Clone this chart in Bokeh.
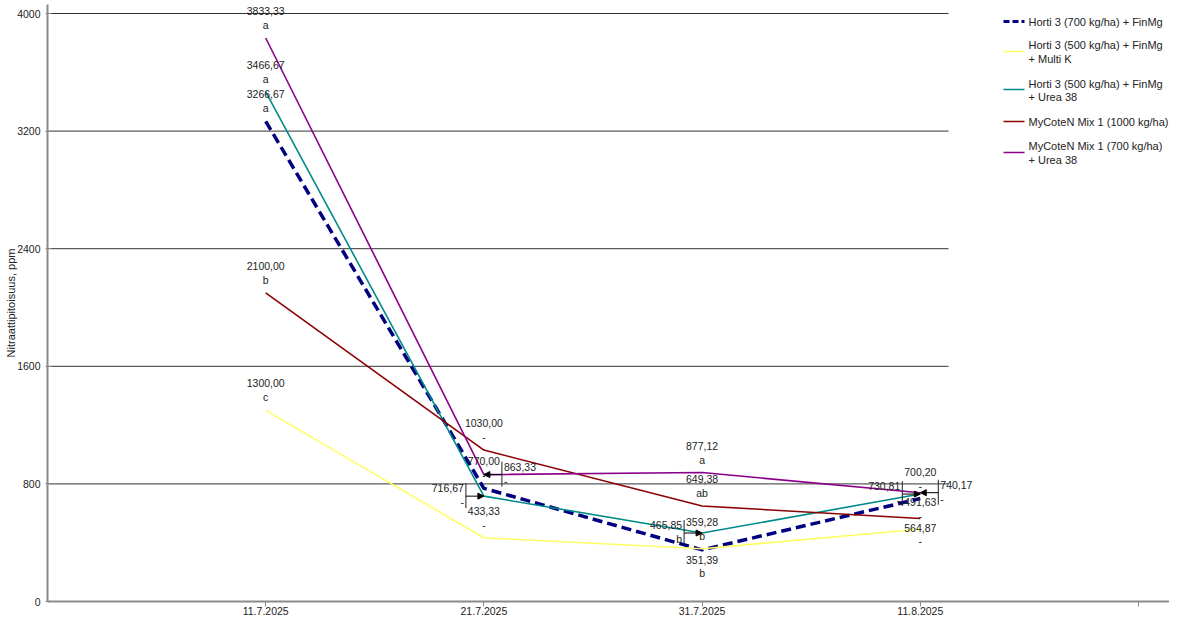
from bokeh.plotting import figure
from bokeh.models import (ColumnDataSource, LabelSet, FixedTicker, Range1d, Arrow, NormalHead)
from bokeh.core.properties import value
from bokeh.embed import file_html
from bokeh.resources import INLINE

# ---------------- data ----------------
dates = ["11.7.2025", "21.7.2025", "31.7.2025", "11.8.2025"]
series_names = [
    ["Horti 3 (700 kg/ha) + FinMg"],
    ["Horti 3 (500 kg/ha) + FinMg", "+ Multi K"],
    ["Horti 3 (500 kg/ha) + FinMg", "+ Urea 38"],
    ["MyCoteN Mix 1 (1000 kg/ha)"],
    ["MyCoteN Mix 1 (700 kg/ha)", "+ Urea 38"],
]
horti700_finmg = [3266.67, 770.00, 351.39, 700.20]
horti500_multik = [1300.00, 433.33, 359.28, 491.63]
horti500_urea = [3466.67, 716.67, 465.85, 730.81]
mycoten1000 = [2100.00, 1030.00, 649.38, 564.87]
mycoten700_urea = [3833.33, 863.33, 877.12, 740.17]

letters_horti700_finmg = ["a", "-", "b", "-"]
letters_horti500_multik = ["c", "-", "b", "-"]
letters_horti500_urea = ["a", "-", "b", "-"]
letters_mycoten1000 = ["b", "-", "ab", "-"]
letters_mycoten700_urea = ["a", "-", "a", "-"]

y_ticks = [0, 800, 1600, 2400, 3200, 4000]
y_title = "Nitraattipitoisuus, ppm"

values = [horti700_finmg, horti500_multik, horti500_urea, mycoten1000, mycoten700_urea]
letters = [letters_horti700_finmg, letters_horti500_multik, letters_horti500_urea,
           letters_mycoten1000, letters_mycoten700_urea]

# ---------------- styles / layout ----------------
colors = ["#000080", "#FFFF66", "#008B8B", "#8B0000", "#8B008B"]
widths = [3.5, 1.6, 1.6, 1.6, 1.6]
dashes = ["10 5", "solid", "solid", "solid", "solid"]
legend_dashes = ["6 3", "solid", "solid", "solid", "solid"]
placement = {
    (0, 2): "below",
    (2, 1): "left", (4, 1): "right",
    (2, 2): "left",
    (2, 3): "left", (3, 3): "below", (4, 3): "right",
}
FONT = "Liberation Sans"
TXT = "#222222"

W, H = 1169, 619
LEFT, RIGHT, TOP, BOTTOM = 47, 0, 4, 18
HEAD = 9                       # free pixels above the 4000 line inside the frame
FRAME_W, FRAME_H = W - LEFT - RIGHT, H - TOP - BOTTOM
N_SLOTS = len(dates) + 1       # axis spans 5 date slots
px_x = 1091 / N_SLOTS
px_y = (FRAME_H - HEAD) / y_ticks[-1]
Y_MAX = y_ticks[-1]
X_RANGE_END = FRAME_W / px_x
Y_RANGE_END = Y_MAX + HEAD / px_y
GRID_RIGHT = 901 / px_x

# legend layout in pixels, relative to the frame left / the top gridline
LEG_SAMPLE = (956, 977)
LEG_TEXT_X = 981
LEG_SAMPLE_Y = [8, 38, 76, 108, 139]
LEG_TEXT_Y = [[8], [31, 45], [70, 83], [108], [132, 146]]

def fx(px):
    return px / px_x

def fy(py):
    return Y_MAX - py / px_y

p = figure(width=W, height=H,
           min_border_left=LEFT, min_border_right=RIGHT, min_border_top=TOP, min_border_bottom=BOTTOM,
           x_range=Range1d(0, X_RANGE_END), y_range=Range1d(0, Y_RANGE_END),
           output_backend="svg", toolbar_location=None, tools="")
p.outline_line_color = None
p.xgrid.visible = False
p.ygrid.visible = False

x_pos = [i + 1 for i in range(len(dates))]

# gridlines
p.segment(x0=[0] * (len(y_ticks) - 1), x1=[GRID_RIGHT] * (len(y_ticks) - 1),
          y0=y_ticks[1:], y1=y_ticks[1:], line_color="#333333", line_width=1)

# axes
p.xaxis.ticker = FixedTicker(ticks=x_pos + [N_SLOTS])
p.xaxis.major_label_overrides = {**{x: d for x, d in zip(x_pos, dates)}, N_SLOTS: ""}
p.yaxis.ticker = FixedTicker(ticks=y_ticks)
p.yaxis.major_label_overrides = {t: str(t) for t in y_ticks}
p.yaxis.axis_label = y_title
for ax in (p.xaxis[0], p.yaxis[0]):
    ax.axis_line_color = "#8a8a8a"
    ax.axis_line_width = 2
    ax.major_tick_line_color = "#8a8a8a"
    ax.minor_tick_line_color = None
    ax.major_label_text_font = FONT
    ax.major_label_text_font_size = "10.5px"
    ax.major_label_text_color = TXT
p.xaxis.major_tick_out = 5
p.xaxis.major_tick_in = 0
p.xaxis.major_label_standoff = 0
p.yaxis.major_tick_out = 2
p.yaxis.major_tick_in = 4
p.yaxis.major_label_standoff = 5
p.yaxis.axis_label_text_font = FONT
p.yaxis.axis_label_text_font_size = "11px"
p.yaxis.axis_label_text_font_style = "normal"
p.yaxis.axis_label_text_color = TXT
p.yaxis.axis_label_standoff = -3

for s, vals in enumerate(values):
    p.line(x_pos, vals, line_color=colors[s], line_width=widths[s], line_dash=dashes[s])

# value labels
groups = {"center": dict(x=[], y=[], t=[], xo=[], yo=[]),
          "right": dict(x=[], y=[], t=[], xo=[], yo=[]),
          "left": dict(x=[], y=[], t=[], xo=[], yo=[])}
box = dict(x0=[], y0=[], x1=[], y1=[])
arrows = dict(xs=[], ys=[], xe=[], ye=[])

def add(g, x, y, t, xo, yo):
    groups[g]["x"].append(x); groups[g]["y"].append(y); groups[g]["t"].append(t)
    groups[g]["xo"].append(xo); groups[g]["yo"].append(yo)

for s, vals in enumerate(values):
    for i, v in enumerate(vals):
        x = x_pos[i]
        num = f"{v:.2f}".replace(".", ",")
        let = letters[s][i]
        mode = placement.get((s, i), "above")
        if mode == "above":
            add("center", x, v, num, 0, 27)
            add("center", x, v, let, 0, 13)
        elif mode == "below":
            add("center", x, v, num, 0, -10)
            add("center", x, v, let, 0, -23)
        else:
            sign = -1 if mode == "left" else 1
            g = "right" if mode == "left" else "left"
            add(g, x, v, num, sign * 20, 8)
            add(g, x, v, let, sign * 20, -6)
            bx = x + sign * fx(18)
            box["x0"].append(bx); box["x1"].append(bx)
            box["y0"].append(v + 13 / px_y); box["y1"].append(v - 12 / px_y)
            arrows["xs"].append(bx); arrows["ys"].append(v)
            arrows["xe"].append(x); arrows["ye"].append(v)

for g, d in groups.items():
    p.add_layout(LabelSet(x="x", y="y", text="t", x_offset="xo", y_offset="yo",
                          source=ColumnDataSource(d),
                          text_align=g, text_baseline="middle", text_font=value(FONT),
                          text_font_size="10.5px", text_color=TXT))

p.segment(x0="x0", y0="y0", x1="x1", y1="y1", source=ColumnDataSource(box),
          line_color="#222222", line_width=1)
p.add_layout(Arrow(end=NormalHead(size=6, fill_color="black", line_color="black"),
                   x_start="xs", y_start="ys", x_end="xe", y_end="ye",
                   source=ColumnDataSource(arrows), line_color="black", line_width=1))

# legend
leg_txt = dict(x=[], y=[], t=[])
for s, lines in enumerate(series_names):
    ys = fy(LEG_SAMPLE_Y[s])
    p.line([fx(LEG_SAMPLE[0]), fx(LEG_SAMPLE[1])], [ys, ys], line_color=colors[s],
           line_width=min(widths[s], 3), line_dash=legend_dashes[s])
    for ln, ty in zip(lines, LEG_TEXT_Y[s]):
        leg_txt["x"].append(fx(LEG_TEXT_X)); leg_txt["y"].append(fy(ty)); leg_txt["t"].append(ln)
p.add_layout(LabelSet(x="x", y="y", text="t", source=ColumnDataSource(leg_txt),
                      text_align="left", text_baseline="middle", text_font=value(FONT),
                      text_font_size="11px", text_color=TXT))

open("out.html", "w").write(file_html(p, INLINE))
